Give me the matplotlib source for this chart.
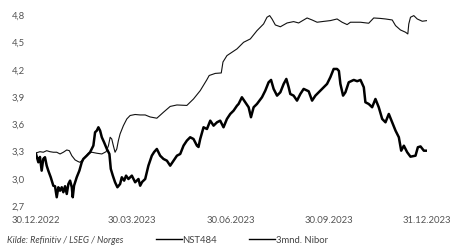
import datetime as dt
import matplotlib
matplotlib.use('Agg')
import matplotlib.pyplot as plt
import matplotlib.dates as mdates
from matplotlib.lines import Line2D

plt.rcParams['font.family'] = ['Lato', 'DejaVu Sans']

# days since 30.12.2022 and values (%)
nst_days = [0, 3.7, 6.8, 10, 13.1, 16.2, 19.4, 22.5, 25.6, 28.8, 31.2, 33.5, 36.6, 39.6, 41.2,
            43.8, 45.9, 49, 52.2, 56.9, 61.6, 65.6, 67.8, 69.4, 70.9, 72.4, 74, 75.6, 77.1,
            78.7, 81.8, 85, 88.1, 92.8, 97.5, 102.2, 106.8, 113.1, 119.3, 125.6, 131.9, 141.2,
            147.4, 153.7, 159.8, 162.1, 167.8, 173.4, 175, 178.7, 183.4, 188.1, 194.3, 200.6,
            206.8, 213, 216.2, 218.7, 220.9, 224, 228.7, 235, 241.1, 245.8, 253.7, 258.4,
            263.1, 269, 275.5, 281.8, 286.5, 291.2, 294.3, 303.7, 311.4, 316.1, 322.4, 327.1,
            333.4, 336.5, 341.1, 345.8, 348, 348.9, 350.5, 353.6, 356.8, 361.5, 366]
nst_vals = [3.273, 3.287, 3.281, 3.298, 3.287, 3.281, 3.281, 3.262, 3.281, 3.306, 3.298, 3.243,
            3.196, 3.177, 3.170, 3.199, 3.226, 3.270, 3.281, 3.270, 3.262, 3.287, 3.353, 3.446,
            3.427, 3.353, 3.281, 3.317, 3.409, 3.483, 3.574, 3.648, 3.686, 3.697, 3.692, 3.692,
            3.670, 3.656, 3.722, 3.786, 3.802, 3.797, 3.868, 3.960, 4.078, 4.127, 4.150, 4.155,
            4.276, 4.346, 4.383, 4.420, 4.493, 4.530, 4.621, 4.695, 4.769, 4.787, 4.750, 4.684,
            4.664, 4.706, 4.721, 4.706, 4.761, 4.739, 4.714, 4.723, 4.732, 4.750, 4.714, 4.688,
            4.714, 4.714, 4.703, 4.761, 4.756, 4.750, 4.739, 4.677, 4.629, 4.604, 4.585, 4.695,
            4.769, 4.787, 4.750, 4.725, 4.732]

nibor_days = [0, 2.2, 3.7, 5.3, 6.8, 8.4, 10, 11.5, 13.8, 16.2, 17.8, 19.4, 20.9, 22.5, 24.1,
              25.6, 27.2, 28.8, 30.3, 31.9, 33.5, 34.4, 35.6, 38.1, 40.6, 42.8, 44.3, 47.5,
              50.6, 53.7, 55.3, 56.9, 58.4, 60, 61.6, 63.7, 66.3, 68.7, 70, 71.9, 74, 76.2,
              78.7, 80.3, 82.5, 84.3, 86.5, 89.7, 92.8, 95.9, 97.5, 99.3, 102.2, 105.2, 108.4,
              110.6, 113.1, 116.2, 119.3, 122.5, 125.6, 128.7, 131.9, 135, 138.1, 141.2, 144.3,
              147.4, 150.6, 152.1, 153.7, 156.8, 160, 163.1, 166.2, 169.4, 172.4, 175.5, 178.7,
              181.8, 184.9, 188.1, 189.6, 192.7, 195.8, 199, 201.2, 203.7, 206.8, 211.5, 214.6,
              217.7, 220, 222.4, 225.6, 228.7, 231.8, 234.3, 236.5, 238, 241.1, 244.3, 247.4,
              250.5, 255.2, 258.4, 261.5, 266.2, 269.3, 272.4, 275.5, 278.6, 281.8, 283.5,
              284.9, 287.4, 289.6, 292.7, 297.4, 300.6, 303.7, 306.8, 308.3, 311.4, 314.6,
              317.7, 320.8, 324, 327.1, 330.2, 333.4, 336.5, 339.6, 341.8, 344.3, 347.4, 350.5,
              355.2, 357.4, 359.9, 363, 366]
nibor_vals = [3.262, 3.170, 3.229, 3.078, 3.207, 3.226, 3.133, 3.078, 3.005, 2.912, 2.906, 2.785,
              2.895, 2.857, 2.895, 2.840, 2.906, 2.821, 2.931, 2.968, 2.895, 2.785, 2.912, 3.005,
              3.078, 3.170, 3.207, 3.243, 3.281, 3.354, 3.501, 3.519, 3.556, 3.519, 3.446, 3.391,
              3.317, 3.262, 3.097, 3.023, 2.950, 2.895, 2.931, 3.005, 2.968, 3.023, 2.986, 3.023,
              2.950, 2.986, 2.912, 2.953, 2.986, 3.133, 3.243, 3.284, 3.317, 3.243, 3.207, 3.188,
              3.133, 3.188, 3.243, 3.262, 3.354, 3.409, 3.446, 3.427, 3.354, 3.339, 3.427, 3.556,
              3.537, 3.629, 3.574, 3.611, 3.629, 3.556, 3.648, 3.703, 3.739, 3.794, 3.813, 3.887,
              3.832, 3.777, 3.667, 3.777, 3.813, 3.887, 3.960, 4.052, 4.078, 3.979, 3.905, 3.942,
              4.034, 4.089, 3.997, 3.923, 3.905, 3.850, 3.923, 3.979, 3.953, 3.850, 3.905, 3.960,
              3.997, 4.034, 4.108, 4.199, 4.199, 4.177, 4.034, 3.905, 3.942, 4.052, 4.078, 4.064,
              4.078, 3.997, 3.832, 3.813, 3.777, 3.868, 3.777, 3.648, 3.611, 3.703, 3.611, 3.519,
              3.446, 3.298, 3.353, 3.281, 3.232, 3.243, 3.336, 3.345, 3.298, 3.298]

tick_dates = ['30.12.2022', '30.03.2023', '30.06.2023', '30.09.2023', '31.12.2023']
y_ticks = [2.7, 3.0, 3.3, 3.6, 3.9, 4.2, 4.5, 4.8]
source = 'Kilde: Refinitiv / LSEG / Norges'

start = dt.datetime(2022, 12, 30)
nst_x = [start + dt.timedelta(days=d) for d in nst_days]
nibor_x = [start + dt.timedelta(days=d) for d in nibor_days]
ticks = [dt.datetime.strptime(t, '%d.%m.%Y') for t in tick_dates]

fig = plt.figure(figsize=(4.5, 2.53), dpi=100)
ax = fig.add_axes([0.08, 0.186, 0.869, 0.753])

ax.plot(nst_x, nst_vals, color='#111111', lw=0.8)
ax.plot(nibor_x, nibor_vals, color='#000000', lw=1.8)

ax.set_xlim(ticks[0], ticks[-1])
ax.set_ylim(2.7, 4.8)
ax.set_xticks(ticks)
ax.xaxis.set_major_formatter(mdates.DateFormatter('%d.%m.%Y'))
ax.set_yticks(y_ticks)
ax.set_yticklabels([('%.1f' % v).replace('.', ',') for v in y_ticks])
ax.tick_params(length=0, labelsize=6.8, colors='#555555')
ax.tick_params(axis='x', pad=7)
ax.tick_params(axis='y', pad=8)
for s in ax.spines.values():
    s.set_visible(False)

handles = [Line2D([], [], color='black', lw=1), Line2D([], [], color='black', lw=1)]
fig.legend(handles, ['NST484', '3mnd. Nibor'], loc='center left', bbox_to_anchor=(0.347, 0.05),
           ncol=2, frameon=False, fontsize=6.8, handlelength=2.7, handletextpad=0.1,
           columnspacing=3.4, borderpad=0, borderaxespad=0, labelcolor='#444444')
fig.text(0.015, 0.048, source, style='italic', fontsize=6.5, color='#444444', va='center')

fig.savefig('out.png', dpi=100)
